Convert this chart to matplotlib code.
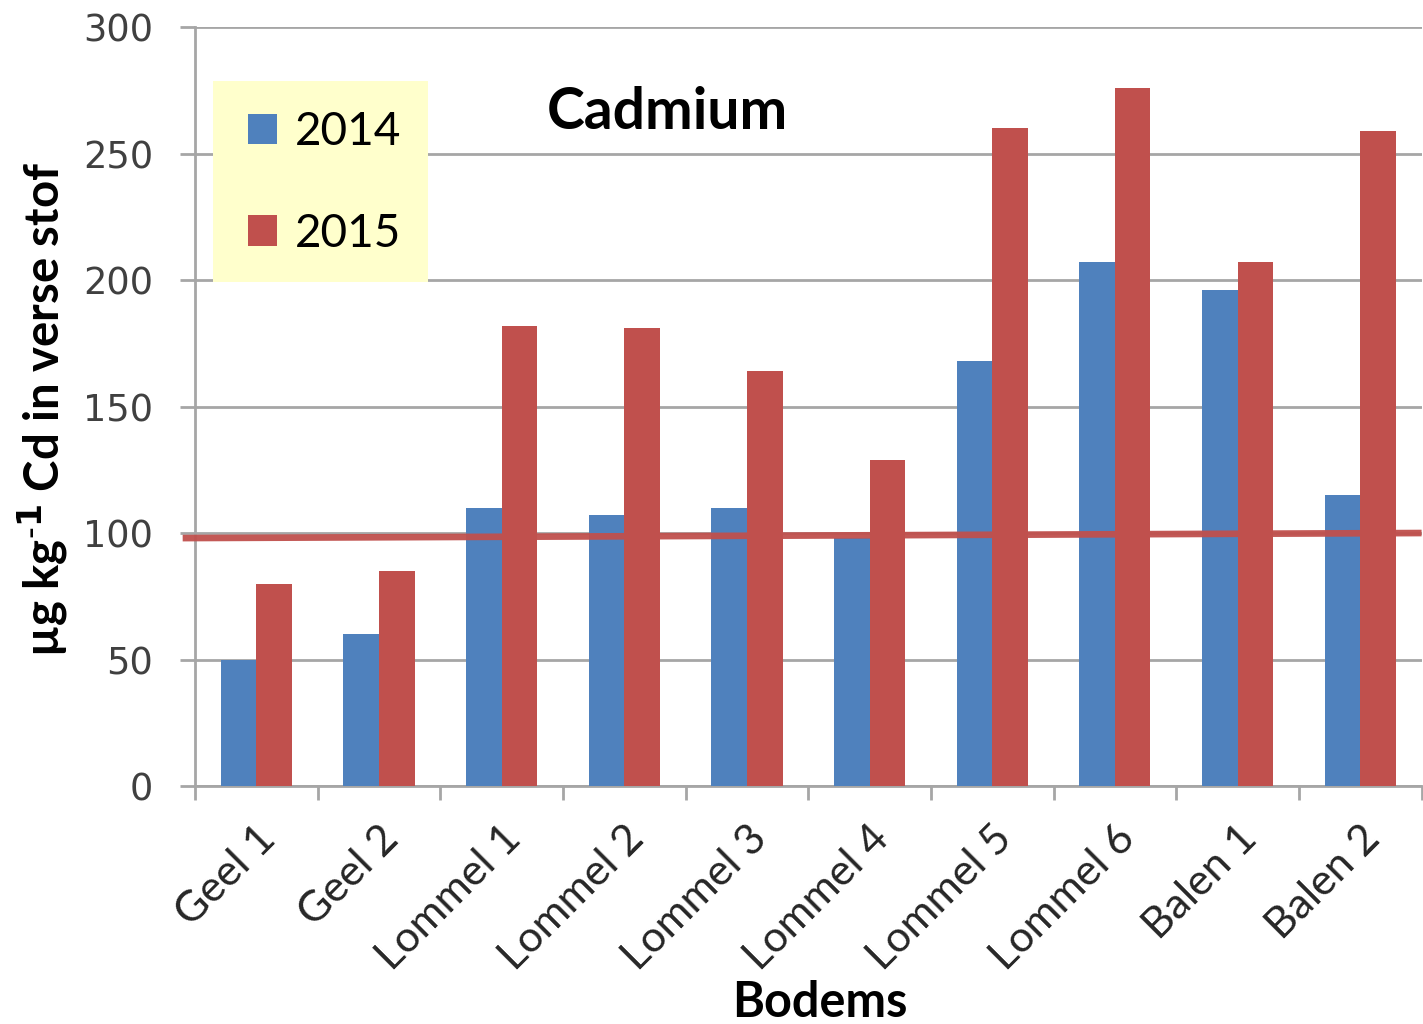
import numpy as np
import matplotlib.pyplot as plt
import matplotlib.transforms as mtransforms
from matplotlib.patches import Rectangle

bodems = ["Geel 1", "Geel 2", "Lommel 1", "Lommel 2", "Lommel 3",
          "Lommel 4", "Lommel 5", "Lommel 6", "Balen 1", "Balen 2"]
cd_2014 = [50, 60, 110, 107, 110, 98, 168, 207, 196, 115]
cd_2015 = [80, 85, 182, 181, 164, 129, 260, 276, 207, 259]
norm_line = [98, 100]  # hand drawn limit line, slightly tilted
yticks = [0, 50, 100, 150, 200, 250, 300]

blue = "#4F81BD"
red = "#C0504D"
grid_col = "#A6A6A6"

fig = plt.figure(figsize=(14.23, 10.24), dpi=100)
ax = fig.add_axes([0.137, 0.2324, 0.862, 0.7412])

x = np.arange(len(bodems))
w = 0.29
ax.bar(x - w / 2, cd_2014, width=w, color=blue, label="2014", zorder=3)
ax.bar(x + w / 2, cd_2015, width=w, color=red, label="2015", zorder=3)

ax.set_xlim(-0.5, len(bodems) - 0.5)
ax.set_ylim(0, 300)
ax.set_yticks(yticks)
ax.set_yticklabels([str(v) for v in yticks], fontsize=26.5, color="#404040",
                   family="DejaVu Sans")
ax.yaxis.grid(True, color=grid_col, linewidth=2, zorder=0)
ax.set_axisbelow(True)

# x ticks at category boundaries, labels at centres
ax.set_xticks(np.arange(-0.5, len(bodems), 1.0))
ax.set_xticklabels([])
ax.set_xticks(x, minor=True)
ax.set_xticklabels(bodems, minor=True, rotation=45, ha="right",
                   rotation_mode="anchor", fontsize=31, family="Lato",
                   color="#262626")
shift = mtransforms.ScaledTranslation(-15 / 100, 0, fig.dpi_scale_trans)
for lab in ax.get_xticklabels(minor=True):
    lab.set_transform(lab.get_transform() + shift)
ax.tick_params(axis="x", which="minor", length=0, pad=24)
ax.tick_params(axis="x", which="major", length=10, width=2, color=grid_col)
ax.tick_params(axis="y", length=11, width=2, color=grid_col, pad=19)

for s in ["top", "right"]:
    ax.spines[s].set_visible(False)
for s in ["left", "bottom"]:
    ax.spines[s].set_color(grid_col)
    ax.spines[s].set_linewidth(2)

ax.plot([-0.6, len(bodems) - 0.5], norm_line, color=red, linewidth=4.8,
        solid_capstyle="butt", zorder=4, clip_on=False, alpha=0.95)

fig.text(0.576, 0.021, "Bodems", fontsize=35, fontweight="bold",
         family="Lato", ha="center", va="center")
fig.text(0.03, 0.6, r"µg kg$^{\mathbf{\text{-}1}}$ Cd in verse stof",
         fontsize=34, fontweight="bold", family="Lato", rotation=90,
         ha="center", va="center")

ax.text(0.385, 0.887, "Cadmium", transform=ax.transAxes, fontsize=41,
        fontweight="bold", family="Lato", ha="center", va="center")

# yellow legend box
ax.add_patch(Rectangle((0.0147, 0.6635), 0.175, 0.2655, transform=ax.transAxes,
                       facecolor="#FFFFCC", edgecolor="none", zorder=2))
leg = ax.legend(loc="upper left", bbox_to_anchor=(0.043, 0.889), frameon=False,
                prop={"family": "Lato", "size": 33}, handlelength=0.65,
                handleheight=0.65, handletextpad=0.37, labelspacing=1.3,
                borderpad=0, borderaxespad=0)
leg.set_zorder(5)

fig.savefig("out.png", dpi=100)
